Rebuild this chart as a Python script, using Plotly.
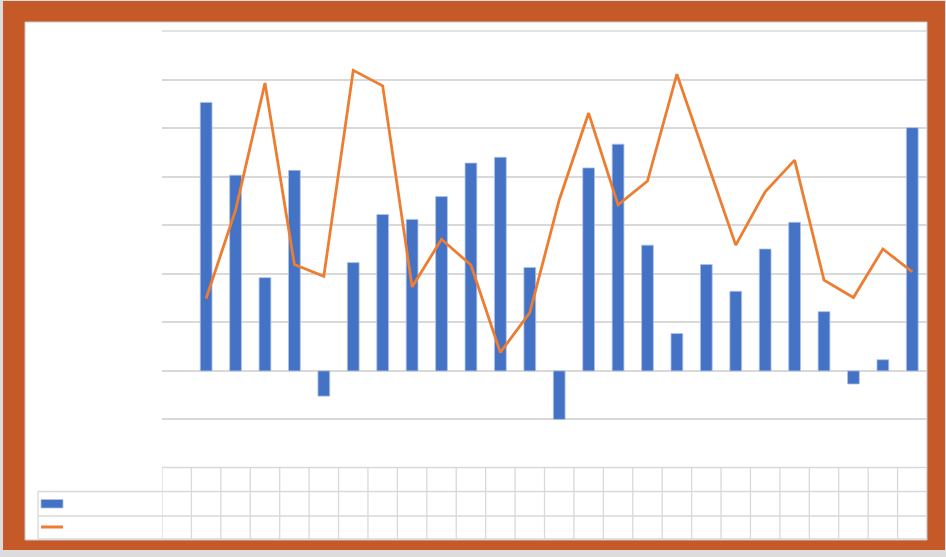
import plotly.graph_objects as go

# ---- data ----
categories = list(range(26))  # 26 category slots, first is empty
bar_values = [None, 5.53, 4.03, 1.92, 4.13, -0.52, 2.23, 3.22, 3.12, 3.59, 4.28, 4.40,
              2.13, -1.00, 4.18, 4.67, 2.59, 0.77, 2.19, 1.64, 2.51, 3.06, 1.22,
              -0.27, 0.23, 5.01]
line_values = [None, 1.49, 3.31, 5.93, 2.19, 1.95, 6.19, 5.87, 1.73, 2.71, 2.18, 0.38,
               1.20, 3.52, 5.31, 3.42, 3.91, 6.11, 4.34, 2.59, 3.69, 4.34, 1.87,
               1.51, 2.51, 2.04]
y_min, y_max = -2, 7

BLUE = "#4472C4"
ORANGE = "#ED7D31"
FRAME = "#C55A28"
GRID = "#D9D9D9"

W, H = 946, 557
L, R, T, B = 162, 19, 31, 89
PW, PH = W - L - R, H - T - B


def px(x):
    return (x - L) / PW


def py(y):
    return (H - B - y) / PH


fig = go.Figure()
fig.add_trace(go.Bar(x=categories, y=bar_values, marker_color=BLUE,
                     marker_line=dict(color="#AFC3E6", width=0.8),
                     showlegend=False))
fig.add_trace(go.Scatter(x=categories, y=line_values, mode="lines",
                         line=dict(color=ORANGE, width=2.8),
                         showlegend=False, connectgaps=False))

shapes = []
# frame
shapes.append(dict(type="rect", xref="paper", yref="paper", layer="below",
                   x0=px(3), x1=px(945), y0=py(550), y1=py(1),
                   fillcolor=FRAME, line=dict(width=0)))
shapes.append(dict(type="rect", xref="paper", yref="paper", layer="below",
                   x0=px(25), x1=px(927), y0=py(540), y1=py(22),
                   fillcolor="white", line=dict(color="#C8C8C8", width=1)))
# top gridline (edge of the value range)
shapes.append(dict(type="line", xref="paper", yref="paper", layer="below",
                   x0=0, x1=1, y0=1, y1=1,
                   line=dict(color=GRID, width=1.5)))
# data table lines
tl = dict(color=GRID, width=1.3)
shapes.append(dict(type="line", xref="paper", yref="paper", x0=px(162), x1=px(927),
                   y0=py(467.5), y1=py(467.5), line=tl))
for yy in (491.5, 516, 539):
    shapes.append(dict(type="line", xref="paper", yref="paper", x0=px(38), x1=px(927),
                       y0=py(yy), y1=py(yy), line=tl))
shapes.append(dict(type="line", xref="paper", yref="paper", x0=px(38), x1=px(38),
                   y0=py(539), y1=py(491.5), line=tl))
for k in range(len(categories) + 1):
    shapes.append(dict(type="line", xref="x", yref="paper", x0=k - 0.5, x1=k - 0.5,
                       y0=py(539), y1=py(467.5), line=tl))
# legend keys
shapes.append(dict(type="rect", xref="paper", yref="paper", x0=px(41), x1=px(63),
                   y0=py(508), y1=py(499.5), fillcolor=BLUE,
                   line=dict(color="#AFC3E6", width=0.8)))
shapes.append(dict(type="line", xref="paper", yref="paper", x0=px(41), x1=px(63),
                   y0=py(527), y1=py(527), line=dict(color=ORANGE, width=3)))

fig.update_layout(
    width=W, height=H,
    margin=dict(l=L, r=R, t=T, b=B, pad=0),
    paper_bgcolor="#DCDCDC",
    plot_bgcolor="rgba(0,0,0,0)",
    bargap=0.6,
    shapes=shapes,
    xaxis=dict(range=[-0.5, len(categories) - 0.5], showgrid=False, zeroline=False,
               showticklabels=False, ticks="", showline=False, fixedrange=True),
    yaxis=dict(range=[y_min, y_max], dtick=1, showgrid=True,
               gridcolor=GRID, gridwidth=1.5, zeroline=False, showticklabels=False,
               ticks="", showline=False, fixedrange=True),
)

fig.write_html("out.html")
